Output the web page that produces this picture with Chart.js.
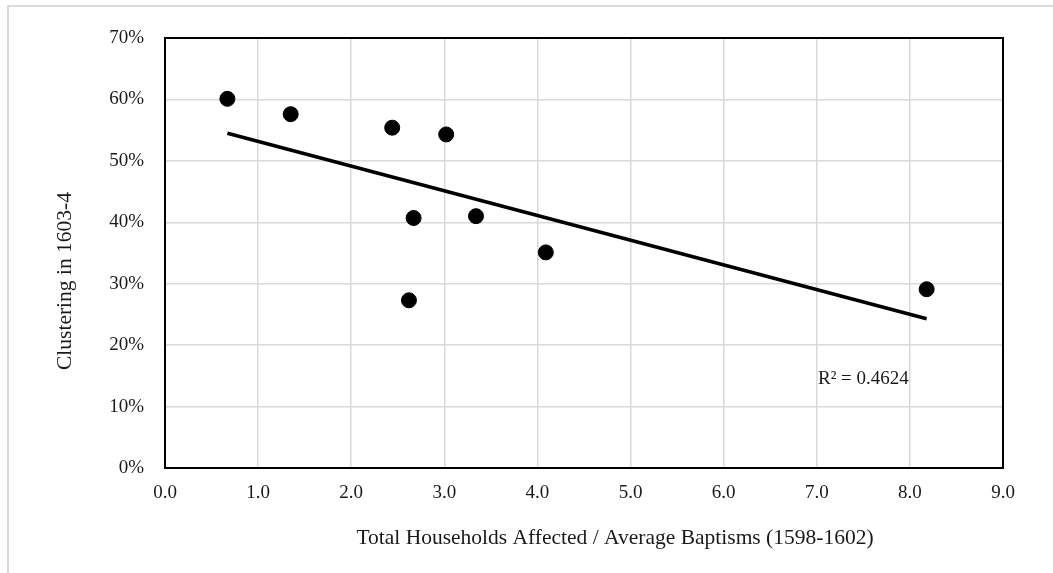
<!DOCTYPE html>
<html>
<head>
<meta charset="utf-8">
<script src="https://cdn.jsdelivr.net/npm/chart.js@4/dist/chart.umd.min.js"></script>
<style>
  html, body { margin: 0; padding: 0; background: #fff; }
  #wrap { position: relative; width: 1053px; height: 573px; overflow: hidden; }
  #frame { position: absolute; left: 7px; top: 5px; width: 1100px; height: 620px;
           border-top: 2px solid #d9d9d9; border-left: 2px solid #d9d9d9; box-sizing: border-box; }
  canvas { position: absolute; left: 0; top: 0; }
</style>
</head>
<body>
<div id="wrap">
  <div id="frame"></div>
  <canvas id="c" width="1053" height="573"></canvas>
</div>
<script>
// Data
const xValues = [0.67, 1.35, 2.44, 3.02, 2.67, 3.34, 4.09, 2.62, 8.18];
const yValues = [60.1, 57.6, 55.4, 54.3, 40.7, 41.0, 35.1, 27.3, 29.1]; // percent
const xTicks = [0, 1, 2, 3, 4, 5, 6, 7, 8, 9];
const yTicks = [0, 10, 20, 30, 40, 50, 60, 70];
const xTitle = 'Total Households Affected / Average Baptisms (1598-1602)';
const yTitle = 'Clustering in 1603-4';
const r2Label = 'R² = 0.4624';

// Linear trendline (least squares) from the data
const n = xValues.length;
const mx = xValues.reduce((a, b) => a + b, 0) / n;
const my = yValues.reduce((a, b) => a + b, 0) / n;
let sxy = 0, sxx = 0;
for (let i = 0; i < n; i++) { sxy += (xValues[i] - mx) * (yValues[i] - my); sxx += (xValues[i] - mx) ** 2; }
const slope = sxy / sxx, intercept = my - slope * mx;
const xMin = Math.min(...xValues), xMax = Math.max(...xValues);
const trend = [{ x: xMin, y: intercept + slope * xMin }, { x: xMax, y: intercept + slope * xMax }];

const FONT = 'Liberation Serif';
const TXT = '#1a1a1a';

const overlay = {
  id: 'overlay',
  afterDraw(chart) {
    const { ctx, chartArea: a } = chart;
    ctx.save();
    ctx.strokeStyle = '#000';
    ctx.lineWidth = 2;
    ctx.strokeRect(a.left, a.top, a.right - a.left, a.bottom - a.top);
    ctx.fillStyle = TXT;
    ctx.font = '21.5px "' + FONT + '"';
    ctx.textAlign = 'center';
    ctx.textBaseline = 'middle';
    ctx.fillText(xTitle, 615, 538);
    ctx.save();
    ctx.translate(65, 281);
    ctx.rotate(-Math.PI / 2);
    ctx.fillText(yTitle, 0, 0);
    ctx.restore();
    ctx.font = '19px "' + FONT + '"';
    ctx.textAlign = 'left';
    ctx.fillText(r2Label, 818, 379);
    ctx.restore();
  }
};

new Chart(document.getElementById('c'), {
  type: 'scatter',
  data: {
    datasets: [
      {
        label: 'Clustering',
        data: xValues.map((x, i) => ({ x, y: yValues[i] })),
        backgroundColor: '#000',
        borderColor: '#000',
        pointRadius: 7.5,
        pointHoverRadius: 7.5,
        order: 1
      },
      {
        label: 'Trend',
        type: 'line',
        data: trend,
        borderColor: '#000',
        borderWidth: 3.5,
        pointRadius: 0,
        fill: false,
        order: 2
      }
    ]
  },
  options: {
    responsive: false,
    animation: false,
    events: [],
    layout: { padding: { left: 0, top: 38, right: 50, bottom: 0 } },
    plugins: { legend: { display: false }, tooltip: { enabled: false } },
    scales: {
      x: {
        type: 'linear',
        min: 0, max: 9,
        afterFit(s) { s.height = 105; },
        afterBuildTicks(s) { s.ticks = xTicks.map(v => ({ value: v })); },
        grid: { color: '#d9d9d9', lineWidth: 1.5, drawTicks: false },
        border: { display: false },
        ticks: {
          padding: 14,
          color: TXT,
          font: { family: FONT, size: 19 },
          callback: v => Number(v).toFixed(1)
        },
        title: { display: false }
      },
      y: {
        type: 'linear',
        min: 0, max: 70,
        afterFit(s) { s.width = 165; },
        afterBuildTicks(s) { s.ticks = yTicks.map(v => ({ value: v })); },
        grid: { color: '#d9d9d9', lineWidth: 1.5, drawTicks: false },
        border: { display: false },
        ticks: {
          padding: 21,
          color: TXT,
          font: { family: FONT, size: 19 },
          callback: v => v + '%'
        },
        title: { display: false }
      }
    }
  },
  plugins: [overlay]
});
</script>
</body>
</html>
